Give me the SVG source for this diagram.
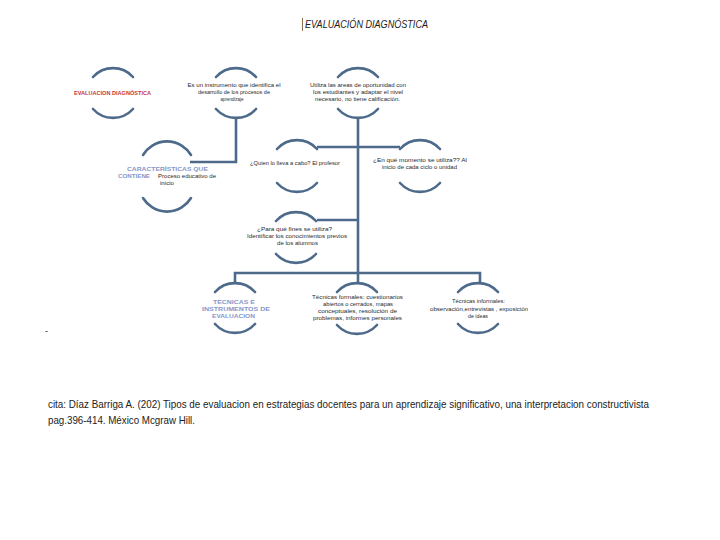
<svg xmlns="http://www.w3.org/2000/svg" width="720" height="540" viewBox="0 0 720 540">
<style>
.arc{fill:none;stroke:#4e6a8b;stroke-width:2.6;stroke-linecap:round}
.ln{fill:none;stroke:#4e6a8b;stroke-width:2.6}
.t{font-family:"Liberation Sans",Arial,sans-serif;font-size:5.6px;fill:#2a2a2a;text-anchor:middle}
.tl{font-family:"Liberation Sans",Arial,sans-serif;font-size:5.6px;fill:#2a2a2a}
.b{font-family:"Liberation Sans",Arial,sans-serif;font-size:6px;font-weight:bold;fill:#8796c8;text-anchor:middle}
.r{font-family:"Liberation Sans",Arial,sans-serif;font-size:6px;font-weight:bold;fill:#c8363a;text-anchor:middle}
</style>
<rect width="720" height="540" fill="#ffffff"/>
<g id="title">
<line x1="302.5" y1="18" x2="302.5" y2="31" stroke="#6b4a1e" stroke-width="0.8"/>
<text x="305" y="28" font-family="Liberation Sans,Arial,sans-serif" font-size="11" font-style="italic" fill="#1a1a1a" textLength="123" lengthAdjust="spacingAndGlyphs">EVALUACIÓN  DIAGNÓSTICA</text>
</g>
<g id="connectors">
<path class="ln" d="M236,118 V162 H190"/>
<path class="ln" d="M358,118 V283"/>
<path class="ln" d="M317,147 H400"/>
<path class="ln" d="M317,220 H358"/>
<path class="ln" d="M235,283 V273 H480 V283"/>
</g>
<g id="node1">
<path class="arc" d="M93,77 A27,27 0 0 1 133,77"/>
<path class="arc" d="M93,109 A27,27 0 0 0 133,109"/>
<text class="r" x="112.5" y="94.5" textLength="77" lengthAdjust="spacingAndGlyphs">EVALUACION  DIAGNÓSTICA</text>
</g>
<g id="node2">
<path class="arc" d="M216,77 A27,27 0 0 1 256,77"/>
<path class="arc" d="M216,109 A27,27 0 0 0 256,109"/>
<text class="t" x="234" y="87" textLength="93" lengthAdjust="spacingAndGlyphs">Es un instrumento que identifica el</text>
<text class="t" x="234" y="94" textLength="72" lengthAdjust="spacingAndGlyphs">desarrollo de los procesos de</text>
<text class="t" x="232" y="101" textLength="23" lengthAdjust="spacingAndGlyphs">aprendizaje</text>
</g>
<g id="node3">
<path class="arc" d="M338,77 A27,27 0 0 1 378,77"/>
<path class="arc" d="M338,109 A27,27 0 0 0 378,109"/>
<text class="t" x="358" y="87" textLength="96" lengthAdjust="spacingAndGlyphs">Utiliza las areas de oportunidad con</text>
<text class="t" x="358" y="94" textLength="90" lengthAdjust="spacingAndGlyphs">los estudiantes y adaptar  el nivel</text>
<text class="t" x="357.5" y="101" textLength="85" lengthAdjust="spacingAndGlyphs">necesario,  no tiene  calificación.</text>
</g>
<g id="node4">
<path class="arc" d="M143,155 A28,28 0 0 1 191,155"/>
<path class="arc" d="M143,198 A28,28 0 0 0 191,198"/>
<text class="b" x="167.5" y="170.5" textLength="81" lengthAdjust="spacingAndGlyphs">CARACTERÍSTICAS   QUE</text>
<text class="b" x="134" y="178" textLength="32" lengthAdjust="spacingAndGlyphs">CONTIENE</text>
<text class="tl" x="158" y="178" textLength="58" lengthAdjust="spacingAndGlyphs">Proceso educativo  de</text>
<text class="tl" x="160" y="184.5" textLength="14" lengthAdjust="spacingAndGlyphs">inicio</text>
</g>
<g id="node5">
<path class="arc" d="M277,149 A27,27 0 0 1 317,149"/>
<path class="arc" d="M277,183 A27,27 0 0 0 317,183"/>
<text class="t" x="295" y="165" textLength="90" lengthAdjust="spacingAndGlyphs">¿Quien lo lleva a cabo? El profesor</text>
</g>
<g id="node6">
<path class="arc" d="M400,149 A27,27 0 0 1 440,149"/>
<path class="arc" d="M400,183 A27,27 0 0 0 440,183"/>
<text class="t" x="420" y="162" textLength="94" lengthAdjust="spacingAndGlyphs">¿En qué momento se utiliza??  Al</text>
<text class="t" x="419.5" y="169" textLength="75" lengthAdjust="spacingAndGlyphs">inicio de cada ciclo o unidad</text>
</g>
<g id="node7">
<path class="arc" d="M276,221 A27,27 0 0 1 316,221"/>
<path class="arc" d="M276,254 A27,27 0 0 0 316,254"/>
<text class="t" x="294.5" y="231" textLength="75" lengthAdjust="spacingAndGlyphs">¿Para qué fines se utiliza?</text>
<text class="t" x="297" y="238" textLength="100" lengthAdjust="spacingAndGlyphs">Identificar  los conocimientos previos</text>
<text class="t" x="297.5" y="245" textLength="41" lengthAdjust="spacingAndGlyphs">de los alumnos</text>
</g>
<g id="node8">
<path class="arc" d="M215,292 A27,27 0 0 1 255,292"/>
<path class="arc" d="M215,324 A27,27 0 0 0 255,324"/>
<text class="b" x="234" y="303.5" textLength="42" lengthAdjust="spacingAndGlyphs">TECNICAS   E</text>
<text class="b" x="236" y="310.5" textLength="68" lengthAdjust="spacingAndGlyphs">INSTRUMENTOS   DE</text>
<text class="b" x="233.5" y="317.5" textLength="43" lengthAdjust="spacingAndGlyphs">EVALUACION</text>
</g>
<g id="node9">
<path class="arc" d="M337,292 A27,27 0 0 1 377,292"/>
<path class="arc" d="M337,325 A27,27 0 0 0 377,325"/>
<text class="t" x="357.5" y="299" textLength="91" lengthAdjust="spacingAndGlyphs">Técnicas formales:  cuestionarios</text>
<text class="t" x="358" y="306" textLength="70" lengthAdjust="spacingAndGlyphs">abiertos o cerrados,  mapas</text>
<text class="t" x="357.5" y="313" textLength="79" lengthAdjust="spacingAndGlyphs">conceptuales, resolución de</text>
<text class="t" x="357.5" y="320" textLength="89" lengthAdjust="spacingAndGlyphs">problemas, informes personales</text>
</g>
<g id="node10">
<path class="arc" d="M458,292 A27,27 0 0 1 498,292"/>
<path class="arc" d="M458,324 A27,27 0 0 0 498,324"/>
<text class="t" x="478.5" y="303" textLength="53" lengthAdjust="spacingAndGlyphs">Técnicas informales:</text>
<text class="t" x="479" y="311" textLength="98" lengthAdjust="spacingAndGlyphs">observación,entrevistas , exposición</text>
<text class="t" x="478" y="318" textLength="20" lengthAdjust="spacingAndGlyphs">de ideas</text>
</g>
<g id="footer">
<text x="45" y="334" font-family="Liberation Sans,Arial,sans-serif" font-size="9" fill="#222">-</text>
<text x="48" y="408" font-family="Liberation Sans,Arial,sans-serif" font-size="10.5" fill="#222" textLength="601" lengthAdjust="spacingAndGlyphs">cita: Díaz Barriga A. (202) Tipos  de evaluacion en estrategias docentes para un aprendizaje significativo, una interpretacion constructivista</text>
<text x="48" y="424" font-family="Liberation Sans,Arial,sans-serif" font-size="10.5" fill="#222" textLength="147" lengthAdjust="spacingAndGlyphs">pag.396-414. México Mcgraw Hill.</text>
</g>
</svg>
